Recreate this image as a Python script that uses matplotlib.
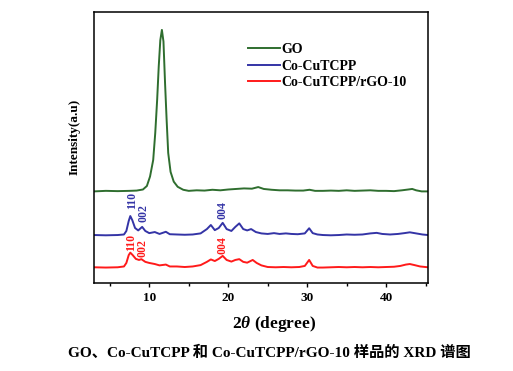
import matplotlib.pyplot as plt

plt.rcParams['font.family'] = ['Liberation Serif', 'Noto Sans CJK SC']
plt.rcParams['font.weight'] = 'bold'
plt.rcParams['axes.labelweight'] = 'bold'
plt.rcParams['mathtext.fontset'] = 'custom'
plt.rcParams['mathtext.it'] = 'Liberation Serif:italic:bold'
plt.rcParams['mathtext.rm'] = 'Liberation Serif:bold'

# GO
go_x = [3.0, 4.5, 6.0, 7.5, 8.4, 9.2, 9.7, 10.1, 10.5, 10.76, 11.0, 11.2, 11.4, 11.6,
        11.8, 12.0, 12.2, 12.4, 12.7, 13.1, 13.6, 14.3, 15.0, 16.0, 17.0, 18.0, 19.0,
        20.0, 21.0, 22.0, 23.0, 23.8, 24.5, 25.5, 26.5, 27.5, 28.5, 29.5, 30.3, 31.0,
        32.0, 33.0, 34.0, 35.0, 36.0, 37.0, 38.0, 39.0, 40.0, 41.0, 42.0, 42.8, 43.3,
        43.8, 44.5, 45.3]
go_y = [-0.3, -0.1, -0.2, -0.1, 0.0, 0.4, 1.7, 5.2, 11.3, 21.3, 33.5, 45.8, 55.5, 59.3,
        55.0, 39.7, 26.1, 13.9, 6.9, 3.3, 1.4, 0.3, -0.1, 0.1, 0.0, 0.3, 0.1,
        0.4, 0.6, 0.8, 0.7, 1.3, 0.6, 0.3, 0.1, 0.1, 0.0, 0.0, 0.3, -0.1,
        -0.1, 0.0, -0.1, 0.1, -0.1, 0.0, 0.1, -0.1, -0.1, -0.2, 0.1, 0.4, 0.6,
        0.1, -0.3, -0.3]

# Co-CuTCPP
co_x = [3.0, 4.5, 6.0, 6.8, 7.1, 7.4, 7.6, 7.85, 8.2, 8.6, 9.1, 9.5, 10.0, 10.7, 11.3,
        12.1, 12.6, 13.5, 14.5, 15.5, 16.5, 17.3, 17.8, 18.3, 18.8, 19.3, 19.8, 20.4,
        20.9, 21.4, 21.9, 22.4, 22.9, 23.5, 24.2, 25.0, 25.8, 26.5, 27.3, 28.0, 28.8,
        29.7, 30.25, 30.7, 31.3, 32.0, 33.0, 34.0, 35.0, 36.0, 37.0, 38.0, 38.8, 39.5,
        40.5, 41.5, 42.3, 43.0, 43.8, 44.6, 45.3]
co_y = [0.0, -0.1, 0.0, 0.2, 1.5, 5.2, 7.0, 5.5, 2.6, 1.7, 3.0, 1.5, 0.7, 1.1, 0.4,
        1.2, 0.3, 0.2, 0.1, 0.2, 0.6, 2.2, 3.7, 1.8, 2.6, 4.5, 2.2, 1.5,
        3.0, 4.3, 2.2, 1.7, 2.2, 1.1, 0.6, 0.4, 0.7, 0.4, 0.6, 0.4, 0.3,
        0.6, 2.5, 0.7, 0.2, 0.0, -0.1, 0.0, 0.2, 0.1, 0.2, 0.6, 0.8, 0.4,
        0.2, 0.4, 0.7, 1.0, 0.6, 0.2, 0.0]

# Co-CuTCPP/rGO-10
rgo_x = [3.0, 4.5, 6.0, 6.8, 7.1, 7.4, 7.6, 7.9, 8.3, 8.7, 9.0, 9.5, 10.0, 10.7, 11.3,
         12.1, 12.6, 13.5, 14.5, 15.5, 16.5, 17.3, 17.8, 18.3, 18.8, 19.3, 19.8, 20.4,
         20.9, 21.4, 21.9, 22.4, 23.1, 23.6, 24.2, 25.0, 26.0, 27.0, 28.0, 29.0, 29.7,
         30.25, 30.7, 31.3, 32.0, 33.0, 34.0, 35.0, 36.0, 37.0, 38.0, 39.0, 40.0, 41.0,
         41.8, 42.5, 43.0, 43.6, 44.3, 45.3]
rgo_y = [0.0, -0.1, 0.0, 0.3, 1.6, 4.5, 5.4, 4.5, 3.1, 2.7, 3.0, 2.0, 1.6, 1.2, 0.7,
         1.0, 0.3, 0.3, 0.1, 0.3, 0.8, 2.0, 2.9, 2.3, 3.1, 4.2, 2.7, 2.1,
         2.7, 3.0, 2.0, 1.7, 2.7, 1.6, 0.7, 0.1, 0.0, 0.1, 0.0, 0.1, 0.5,
         2.7, 0.5, -0.1, -0.1, 0.0, 0.1, 0.0, 0.1, 0.0, 0.1, 0.0, 0.1, 0.2,
         0.5, 1.0, 1.2, 0.8, 0.3, 0.0]

labels = ["GO", "Co-CuTCPP", "Co-CuTCPP/rGO-10"]
colors = ["#2f6e2f", "#3434a6", "#ff1a1a"]
offsets = [34.1, 17.7, 5.8]

fig = plt.figure(figsize=(5.13, 3.71), dpi=100)
ax = fig.add_axes([0.1832, 0.2372, 0.6511, 0.7305])

series = [(go_x, go_y), (co_x, co_y), (rgo_x, rgo_y)]
for (x, y), lab, c, off in zip(series, labels, colors, offsets):
    ax.plot(x, [v + off for v in y], color=c, lw=1.4, label=lab)

# crystal plane labels
planes = ["110", "002", "004"]
blue_pos = [(7.85, 30.3), (9.3, 25.8), (19.3, 27.0)]
red_pos = [(7.66, 15.1), (9.18, 13.0), (19.3, 14.0)]
for p, (bx, by), (rx, ry) in zip(planes, blue_pos, red_pos):
    ax.text(bx, by, p, color=colors[1], rotation=90, fontsize=8.5,
            ha="center", va="center", weight="bold")
    ax.text(rx, ry, p, color=colors[2], rotation=90, fontsize=8.5,
            ha="center", va="center", weight="bold")

ax.set_xlim(3.0, 45.3)
ax.set_ylim(0, 100)
ax.set_yticks([])
ax.set_xticks([10, 20, 30, 40])
ax.set_xticks([5, 15, 25, 35, 45], minor=True)
ax.tick_params(axis="x", which="major", direction="out", length=3, width=1, labelsize=9.5)
ax.tick_params(axis="x", which="minor", direction="out", length=2, width=1)
for t in ax.get_xticklabels():
    t.set_fontweight("bold")
for s in ax.spines.values():
    s.set_linewidth(1.1)

ax.set_xlabel(r"2$\mathit{\theta}$ (degree)", fontsize=12.5, weight="bold")
ax.xaxis.set_label_coords(0.54, -0.115)
ax.set_ylabel("Intensity(a.u)", fontsize=9.5, weight="bold")
ax.yaxis.set_label_coords(-0.04, 0.54)

ax.legend(loc="upper left", bbox_to_anchor=(0.46, 0.885), frameon=False,
          prop={"size": 10, "weight": "bold"}, handlelength=2.3, handletextpad=0.1,
          labelspacing=0.25, borderpad=0, borderaxespad=0)

fig.text(0.526, 0.05, "GO、Co-CuTCPP 和 Co-CuTCPP/rGO-10 样品的 XRD 谱图",
         ha="center", va="center", fontsize=11, weight="bold")

plt.savefig("out.png", dpi=100)
